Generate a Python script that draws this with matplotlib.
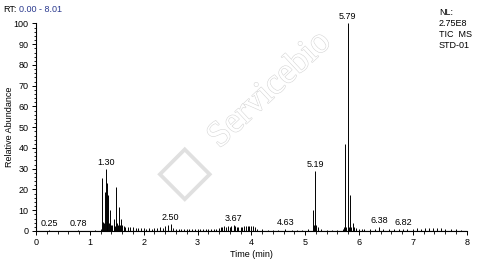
import matplotlib
matplotlib.use("Agg")
import matplotlib.pyplot as plt
import matplotlib.patheffects as pe
from matplotlib.ticker import MultipleLocator

plt.rcParams['font.family'] = ['Liberation Sans', 'DejaVu Sans']

# retention time (min) and relative abundance of the sticks in the trace
times = [0.10, 0.25, 0.40, 0.55, 0.78, 0.95, 1.10, 1.20,
         1.235, 1.25, 1.26, 1.28, 1.30, 1.31, 1.32, 1.345, 1.36, 1.37, 1.40, 1.42,
         1.44, 1.457, 1.47, 1.49, 1.51, 1.53, 1.54, 1.56, 1.58, 1.60, 1.63, 1.66,
         1.70, 1.75, 1.80, 1.85, 1.90, 1.95, 2.00, 2.05, 2.10, 2.15, 2.20, 2.25,
         2.30, 2.35, 2.40, 2.45, 2.50, 2.55, 2.60, 2.65, 2.70, 2.75, 2.80, 2.85,
         2.90, 2.95, 3.00, 3.05, 3.10, 3.15, 3.20, 3.25, 3.30, 3.35, 3.40, 3.43,
         3.46, 3.50, 3.53, 3.56, 3.60, 3.63, 3.67, 3.70, 3.73, 3.76, 3.80, 3.83,
         3.86, 3.90, 3.93, 3.96, 4.00, 4.03, 4.06, 4.10, 4.20, 4.30, 4.40, 4.50,
         4.63, 4.75, 4.85, 4.95, 5.05, 5.136, 5.16, 5.186, 5.21, 5.24, 5.30, 5.40,
         5.50, 5.60, 5.70, 5.72, 5.74, 5.76, 5.79, 5.81, 5.84, 5.86, 5.88, 5.91,
         5.95, 6.00, 6.05, 6.10, 6.20, 6.30, 6.38, 6.45, 6.55, 6.65, 6.75, 6.82,
         6.90, 7.00, 7.08, 7.15, 7.22, 7.30, 7.38, 7.45, 7.52, 7.60, 7.70, 7.80,
         7.90]
heights = [0.2, 0.3, 0.2, 0.2, 0.3, 0.2, 0.3, 0.8,
           25.3, 4.5, 4.0, 19.0, 30.0, 5.0, 23.0, 17.4, 4.0, 10.0, 3.0, 3.0,
           2.5, 5.6, 2.5, 21.0, 4.0, 3.0, 11.8, 3.0, 5.6, 3.0, 2.5, 2.0,
           2.0, 2.0, 2.0, 1.5, 1.5, 1.2, 1.2, 1.0, 1.2, 1.0, 1.2, 1.5,
           2.0, 1.5, 2.5, 3.0, 3.2, 1.2, 1.0, 1.0, 1.0, 1.0, 0.8, 1.0,
           0.8, 1.0, 0.8, 0.8, 0.8, 0.8, 0.8, 0.8, 0.8, 1.0, 1.5, 1.8,
           2.0, 2.2, 2.0, 2.2, 2.0, 2.5, 3.0, 2.2, 2.0, 1.8, 1.8, 2.0,
           2.2, 2.2, 2.5, 2.5, 2.5, 2.2, 1.8, 1.0, 0.8, 0.6, 0.6, 0.6,
           1.0, 0.6, 0.6, 0.6, 0.8, 10.2, 3.0, 29.0, 3.0, 2.0, 1.0, 0.6,
           0.6, 0.6, 1.0, 2.0, 42.0, 2.0, 100.0, 2.0, 17.4, 2.0, 3.7, 2.0,
           1.5, 1.0, 1.0, 0.8, 0.8, 1.0, 2.0, 0.8, 0.8, 0.8, 0.8, 1.0,
           0.8, 0.8, 1.2, 1.0, 1.5, 1.2, 1.5, 1.2, 1.2, 1.0, 0.8, 0.8,
           0.6]

label_times = [0.25, 0.78, 1.30, 2.50, 3.67, 4.63, 5.19, 5.79, 6.38, 6.82]
label_heights = [0.3, 0.3, 30.0, 3.2, 3.0, 1.0, 29.0, 100.0, 2.0, 1.0]


def main():
    fig = plt.figure(figsize=(5.0, 2.61), dpi=100)
    ax = fig.add_axes([0.072, 0.115, 0.8614, 0.795])

    # watermark behind the trace
    fig.text(0.54, 0.655, "Servicebio", fontsize=26, family="Liberation Serif", rotation=43,
             ha="center", va="center", color="white", zorder=0,
             path_effects=[pe.withStroke(linewidth=0.8, foreground="#d6d6d6")])
    fig.text(0.37, 0.33, "\u25C7", fontsize=52, ha="center", va="center",
             color="#e0e0e0", zorder=0)
    ax.patch.set_alpha(0)

    ax.vlines(times, 0, heights, color="black", linewidth=0.7)
    ax.plot([0, 8], [0, 0], color="black", linewidth=0.8)

    for t, h in zip(label_times, label_heights):
        ax.annotate("{:.2f}".format(t), (t, h), xytext=(0, 1.5), textcoords="offset points",
                    ha="center", va="bottom", fontsize=6.5, annotation_clip=False)

    ax.set_xlim(0, 8)
    ax.set_ylim(0, 100)
    for s in ("top", "right"):
        ax.spines[s].set_visible(False)
    ax.spines["left"].set_linewidth(0.8)
    ax.spines["bottom"].set_linewidth(0.8)
    ax.xaxis.set_major_locator(MultipleLocator(1))
    ax.xaxis.set_minor_locator(MultipleLocator(0.2))
    ax.yaxis.set_major_locator(MultipleLocator(10))
    ax.yaxis.set_minor_locator(MultipleLocator(2))
    ax.tick_params(which="major", length=3.2, width=0.7, labelsize=6.5, pad=2)
    ax.tick_params(which="minor", length=1.8, width=0.6)
    ax.set_xlabel("Time (min)", fontsize=6.5, labelpad=2)
    ax.set_ylabel("Relative Abundance", fontsize=6.5)
    ax.yaxis.set_label_coords(-0.051, 0.5)

    # header texts
    fig.text(0.006, 0.962, "RT:", fontsize=6.5, va="center")
    fig.text(0.038, 0.962, "0.00 - 8.01", fontsize=6.5, va="center", color="#2b3a8f")
    fig.text(0.878, 0.89, "NL:\n2.75E8\nTIC  MS\nSTD-01", fontsize=6.5, va="center",
             linespacing=1.3)

    fig.savefig("out.png", dpi=100)


if __name__ == '__main__':
    main()
